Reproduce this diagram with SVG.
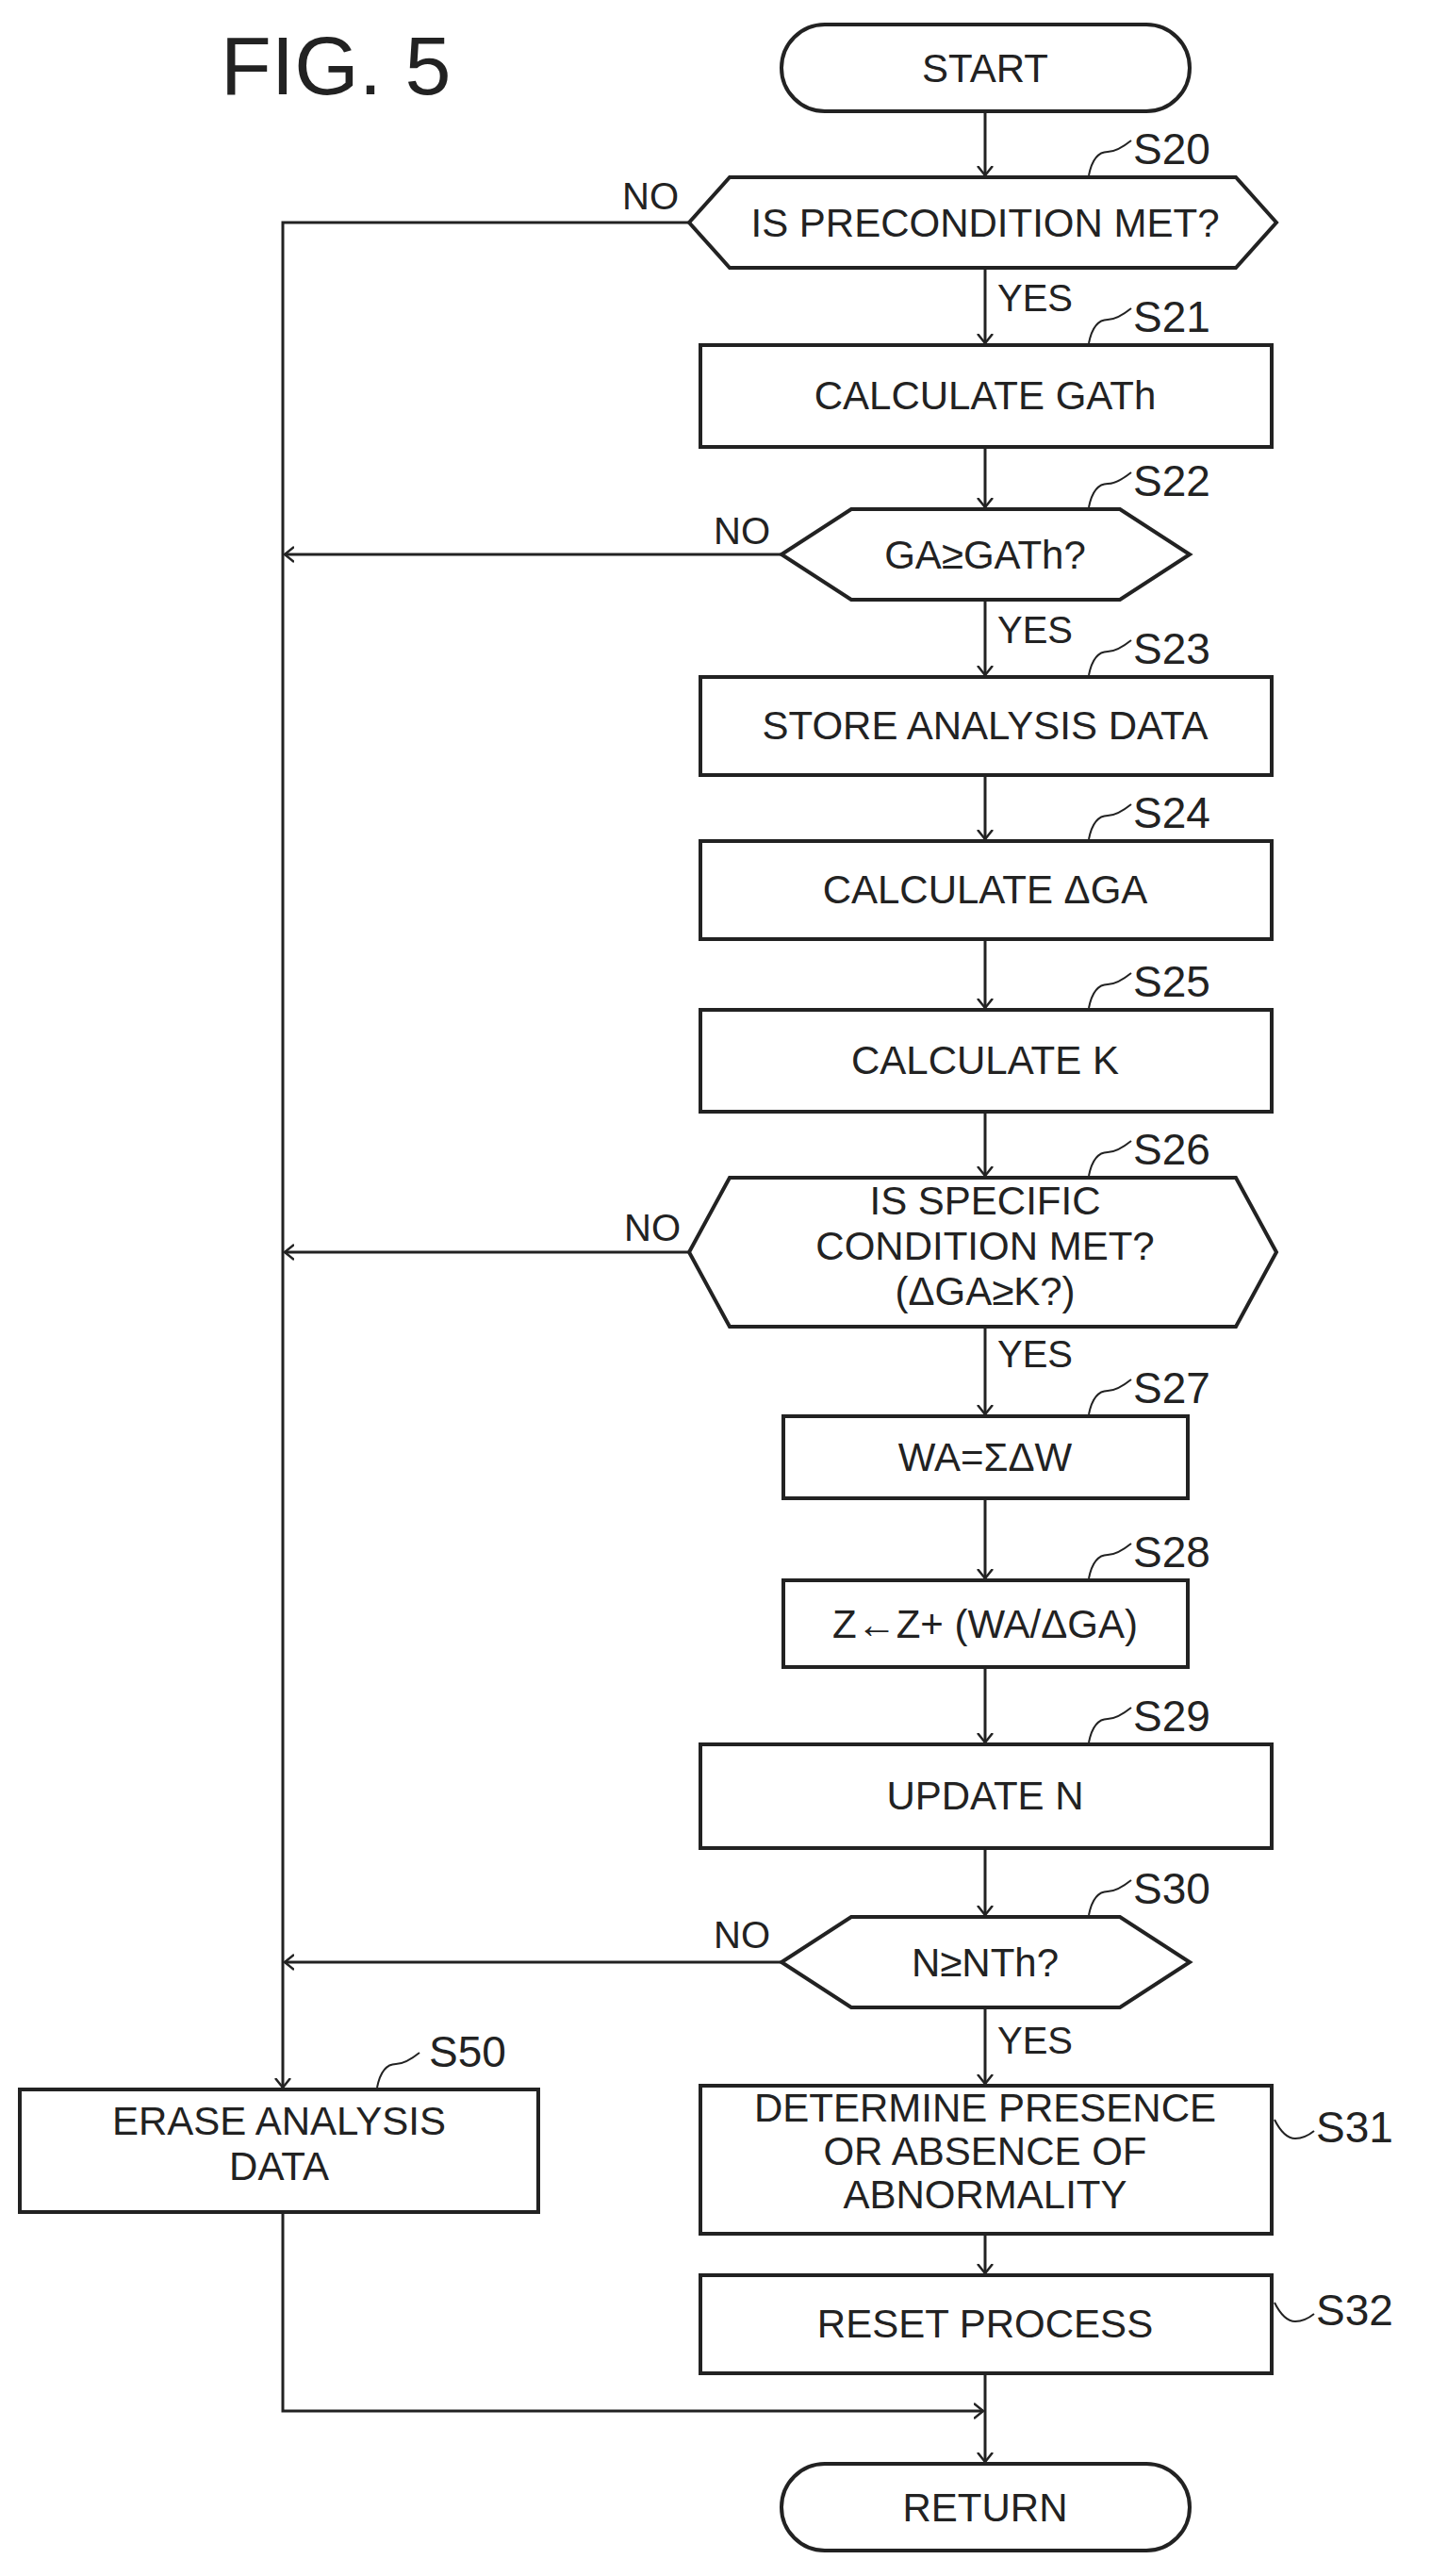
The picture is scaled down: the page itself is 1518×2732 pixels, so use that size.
<svg xmlns="http://www.w3.org/2000/svg" width="1518" height="2732" viewBox="0 0 1518 2732">
<defs>
<marker id="ah" markerWidth="20" markerHeight="20" refX="10" refY="10" orient="auto" markerUnits="userSpaceOnUse" viewBox="0 0 20 20"><path d="M0,2 L10,10 L0,18" fill="none" stroke="#222" stroke-width="2.5"/></marker>
</defs>
<style>
.s{fill:#fff;stroke:#222;stroke-width:4}
.t{font-family:"Liberation Sans",Arial,sans-serif;font-size:42px;fill:#222;text-anchor:middle}
.l{font-family:"Liberation Sans",Arial,sans-serif;font-size:40px;fill:#222}
.n{font-family:"Liberation Sans",Arial,sans-serif;font-size:46px;fill:#222}
.c{fill:none;stroke:#222;stroke-width:3}
.q{fill:none;stroke:#222;stroke-width:2}
</style>
<rect width="1518" height="2732" fill="#fff"/>
<text x="234" y="100" style="font-family:'Liberation Sans',Arial,sans-serif;font-size:88px;fill:#222">FIG. 5</text>
<g id="connectors">
<path class="c" d="M1045,118 V186" marker-end="url(#ah)"/>
<path class="c" d="M1045,284 V364" marker-end="url(#ah)"/>
<path class="c" d="M1045,474 V538" marker-end="url(#ah)"/>
<path class="c" d="M1045,636 V716" marker-end="url(#ah)"/>
<path class="c" d="M1045,822 V890" marker-end="url(#ah)"/>
<path class="c" d="M1045,996 V1069" marker-end="url(#ah)"/>
<path class="c" d="M1045,1179 V1247" marker-end="url(#ah)"/>
<path class="c" d="M1045,1407 V1500" marker-end="url(#ah)"/>
<path class="c" d="M1045,1589 V1674" marker-end="url(#ah)"/>
<path class="c" d="M1045,1768 V1848" marker-end="url(#ah)"/>
<path class="c" d="M1045,1960 V2031" marker-end="url(#ah)"/>
<path class="c" d="M1045,2129 V2210" marker-end="url(#ah)"/>
<path class="c" d="M1045,2369 V2411" marker-end="url(#ah)"/>
<path class="c" d="M1045,2517 V2611" marker-end="url(#ah)"/>
<path class="c" d="M731,236 H300 V2214" marker-end="url(#ah)"/>
<path class="c" d="M829,588 H302" marker-end="url(#ah)"/>
<path class="c" d="M731,1328 H302" marker-end="url(#ah)"/>
<path class="c" d="M829,2081 H302" marker-end="url(#ah)"/>
<path class="c" d="M300,2346 V2557 H1043" marker-end="url(#ah)"/>
<text class="l" x="660" y="222">NO</text>
<text class="l" x="757" y="577">NO</text>
<text class="l" x="662" y="1316">NO</text>
<text class="l" x="757" y="2066">NO</text>
<text class="l" x="1058" y="330">YES</text>
<text class="l" x="1058" y="682">YES</text>
<text class="l" x="1058" y="1450">YES</text>
<text class="l" x="1058" y="2178">YES</text>
</g>
<g id="start"><rect class="s" x="829" y="26" width="433" height="92" rx="46"/><text class="t" x="1045" y="87">START</text></g>
<g id="s20"><polygon class="s" points="774,188 1311,188 1354,236 1311,284 774,284 731,236"/><text class="t" x="1045" y="251">IS PRECONDITION MET?</text><path class="q" d="M1155,186 q5,-25 20,-25 q10,0 25,-12"/><text class="n" x="1202" y="174">S20</text></g>
<g id="s21"><rect class="s" x="743" y="366" width="606" height="108"/><text class="t" x="1045" y="434">CALCULATE GATh</text><path class="q" d="M1155,364 q5,-25 20,-25 q10,0 25,-12"/><text class="n" x="1202" y="352">S21</text></g>
<g id="s22"><polygon class="s" points="903,540 1188,540 1262,588 1188,636 903,636 829,588"/><text class="t" x="1045" y="603">GA≥GATh?</text><path class="q" d="M1155,538 q5,-25 20,-25 q10,0 25,-12"/><text class="n" x="1202" y="526">S22</text></g>
<g id="s23"><rect class="s" x="743" y="718" width="606" height="104"/><text class="t" x="1045" y="784">STORE ANALYSIS DATA</text><path class="q" d="M1155,716 q5,-25 20,-25 q10,0 25,-12"/><text class="n" x="1202" y="704">S23</text></g>
<g id="s24"><rect class="s" x="743" y="892" width="606" height="104"/><text class="t" x="1045" y="958">CALCULATE ΔGA</text><path class="q" d="M1155,890 q5,-25 20,-25 q10,0 25,-12"/><text class="n" x="1202" y="878">S24</text></g>
<g id="s25"><rect class="s" x="743" y="1071" width="606" height="108"/><text class="t" x="1045" y="1139">CALCULATE K</text><path class="q" d="M1155,1069 q5,-25 20,-25 q10,0 25,-12"/><text class="n" x="1202" y="1057">S25</text></g>
<g id="s26"><polygon class="s" points="774,1249 1311,1249 1354,1328 1311,1407 774,1407 731,1328"/><text class="t" x="1045" y="1288">IS SPECIFIC</text><text class="t" x="1045" y="1336">CONDITION MET?</text><text class="t" x="1045" y="1384">(ΔGA≥K?)</text><path class="q" d="M1155,1247 q5,-25 20,-25 q10,0 25,-12"/><text class="n" x="1202" y="1235">S26</text></g>
<g id="s27"><rect class="s" x="831" y="1502" width="429" height="87"/><text class="t" x="1045" y="1560">WA=ΣΔW</text><path class="q" d="M1155,1500 q5,-25 20,-25 q10,0 25,-12"/><text class="n" x="1202" y="1488">S27</text></g>
<g id="s28"><rect class="s" x="831" y="1676" width="429" height="92"/><text class="t" x="1045" y="1737">Z←Z+ (WA/ΔGA)</text><path class="q" d="M1155,1674 q5,-25 20,-25 q10,0 25,-12"/><text class="n" x="1202" y="1662">S28</text></g>
<g id="s29"><rect class="s" x="743" y="1850" width="606" height="110"/><text class="t" x="1045" y="1919">UPDATE N</text><path class="q" d="M1155,1848 q5,-25 20,-25 q10,0 25,-12"/><text class="n" x="1202" y="1836">S29</text></g>
<g id="s30"><polygon class="s" points="903,2033 1188,2033 1262,2081 1188,2129 903,2129 829,2081"/><text class="t" x="1045" y="2096">N≥NTh?</text><path class="q" d="M1155,2031 q5,-25 20,-25 q10,0 25,-12"/><text class="n" x="1202" y="2019">S30</text></g>
<g id="s31"><rect class="s" x="743" y="2212" width="606" height="157"/><text class="t" x="1045" y="2250">DETERMINE PRESENCE</text><text class="t" x="1045" y="2296">OR ABSENCE OF</text><text class="t" x="1045" y="2342">ABNORMALITY</text><path class="q" d="M1352,2248 q10,20 22,20 q10,0 20,-8"/><text class="n" x="1396" y="2272">S31</text></g>
<g id="s32"><rect class="s" x="743" y="2413" width="606" height="104"/><text class="t" x="1045" y="2479">RESET PROCESS</text><path class="q" d="M1352,2442 q10,20 22,20 q10,0 20,-8"/><text class="n" x="1396" y="2466">S32</text></g>
<g id="s50"><rect class="s" x="21" y="2216" width="550" height="130"/><text class="t" x="296" y="2264">ERASE ANALYSIS</text><text class="t" x="296" y="2312">DATA</text><path class="q" d="M400,2214 q5,-25 20,-25 q10,0 25,-12"/><text class="n" x="455" y="2192">S50</text></g>
<g id="return"><rect class="s" x="829" y="2613" width="433" height="92" rx="46"/><text class="t" x="1045" y="2674">RETURN</text></g>
</svg>
